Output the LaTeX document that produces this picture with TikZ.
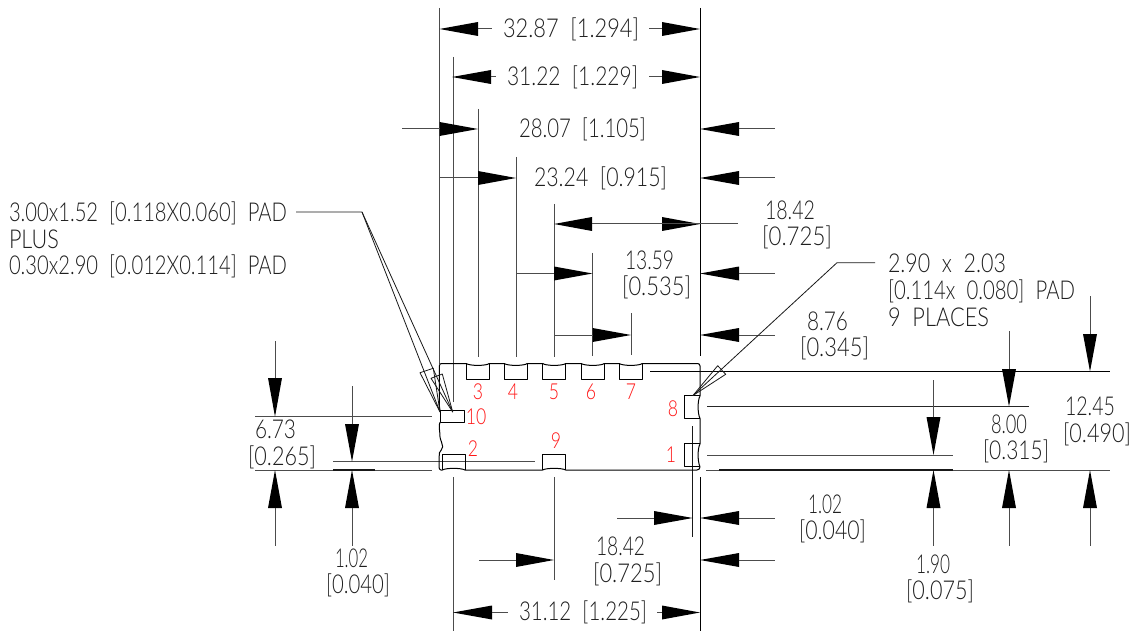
\documentclass[tikz,border=0pt]{standalone}
\usepackage{fontspec}
\usepackage{graphicx}
\setmainfont{Lato}[UprightFont={* Light},WordSpace=2]
\newlength\fitlen
\newcounter{tc}
\newcommand\fitbox[3]{\settowidth\fitlen{#3}\pgfmathsetmacro\fitr{(#2-#1)/\fitlen}\scalebox{\fitr}[1]{#3}}
% dimension text: left, right, centre y, text
\newcommand\ft[4]{\stepcounter{tc}\node[dimtext] (t\arabic{tc}) at ({(#1+#2)/2},{#3+8.8}) {\fitbox{#1}{#2}{#4}};}
% red pin number: centre x, centre y, text
\newcommand\pin[3]{\stepcounter{tc}\node[pintext] (t\arabic{tc}) at (#1,{#2+7.5}) {\scalebox{0.8}[1]{#3}};}
% horizontal arrow: tip x, base x, y, tail x
\newcommand\ha[4]{\fill[arrowfill] (#1,#3) -- (#2,{#3-7}) -- (#2,{#3+7}) -- cycle; \draw[dimline] (#2,#3) -- (#4,#3);}
% vertical arrow: x, tip y, base y, tail y
\newcommand\va[4]{\fill[arrowfill] (#1,#2) -- ({#1-7},#3) -- ({#1+7},#3) -- cycle; \draw[dimline] (#1,#3) -- (#1,#4);}
\newcommand\topdip[2]{-- (#1,363.5) .. controls ({#1+3},366) and ({#2-3},366) .. (#2,363.5)}
\begin{document}
\begin{tikzpicture}[x=1pt,y=-1pt,
  dimtext/.style={inner sep=0pt,anchor=base,font=\fontsize{26}{26}\selectfont,text=black!88},
  pintext/.style={inner sep=0pt,anchor=base,font=\fontsize{22}{22}\selectfont,text={rgb,255:red,255;green,20;blue,20}},
  dimline/.style={line width=1pt,draw=black!70},
  extline/.style={line width=1pt,draw=black!70},
  bodyline/.style={line width=1pt,draw=black,line join=round},
  leader/.style={line width=0.8pt,draw=black!90,line join=round},
  arrowfill/.style={fill=black}]
\useasboundingbox (0,0) rectangle (1138,631);
\fill[white] (0,0) rectangle (1138,631);

% extension lines, vertical
\draw[extline] (439.5,8) -- (439.5,364);
\draw[extline] (453,57) -- (453,402);
\draw[extline] (453.5,477) -- (453.5,631);
\draw[extline] (478,109) -- (478,357);
\draw[extline] (516,157) -- (516,357);
\draw[extline] (554,204) -- (554,357);
\draw[extline] (554,477) -- (554,580);
\draw[extline] (592.5,253) -- (592.5,356);
\draw[extline] (631,313) -- (631,355);
\draw[line width=1pt,draw=black] (700.5,8) -- (700.5,356);
\draw[line width=1pt,draw=black] (700.5,477) -- (700.5,631);
\draw[line width=0.9pt,draw=black!90] (692.7,426) -- (692.7,537);

% extension lines, horizontal
\draw[line width=0.9pt,draw=black] (650,371.5) -- (1110,371.5);
\draw[extline,draw=black!85] (707,406.5) -- (1029,406.5);
\draw[extline] (707,455) -- (953,455);
\draw[extline] (706,470) -- (1110,470);
\draw[line width=1.2pt,draw=black!90] (719,470) -- (953,470);
\draw[extline] (255,416.7) -- (432,416.7);
\draw[extline] (255,470) -- (432,470);
\draw[line width=1.2pt,draw=black!90] (333,470) -- (375,470);
\draw[extline] (333,461.7) -- (535,461.7);

% body outline
\draw[bodyline] (439.3,405) -- (439.3,366) .. controls (439.3,364) and (440.5,363.5) .. (442,363.5)
  \topdip{466.3}{489.3} \topdip{504.3}{527.3} \topdip{542.7}{565.7} \topdip{581.3}{604.3} \topdip{619.3}{642.3}
  -- (697.5,363.5) .. controls (699,363.5) and (700,364.5) .. (700,366)
  -- (700,396) .. controls (697.5,400) and (697.5,414) .. (700,418.3)
  -- (700,444) .. controls (697.5,448) and (697.5,462) .. (700,466.7)
  .. controls (700,468.5) and (699,470) .. (697,470)
  -- (565.7,470) .. controls (562,467.8) and (546,467.8) .. (542.7,470)
  -- (465,470) .. controls (461,467.8) and (446,467.8) .. (442.3,470)
  -- (441,470) .. controls (439.5,470) and (439,468.5) .. (439,466.7)
  -- (439.3,453) .. controls (440,451) and (442.7,449) .. (442.7,446.7)
  .. controls (442.7,443) and (440,440) .. (440,436.7)
  .. controls (440,432) and (439,428) .. (439.3,425);
\draw[bodyline] (439.3,405) -- (440,410.7);
\draw[bodyline] (439.3,425) -- (440,422.3);

% pads
\draw[bodyline] (466.3,364) -- (466.3,379.3) -- (489.3,379.3) -- (489.3,364);
\draw[bodyline] (504.3,364) -- (504.3,379.3) -- (527.3,379.3) -- (527.3,364);
\draw[bodyline] (542.7,364) -- (542.7,379.3) -- (565.7,379.3) -- (565.7,364);
\draw[bodyline] (581.3,364) -- (581.3,379.3) -- (604.3,379.3) -- (604.3,364);
\draw[bodyline] (619.3,364) -- (619.3,379.3) -- (642.3,379.3) -- (642.3,364);
\draw[bodyline] (440,410.7) rectangle (464.3,422.3);
\draw[bodyline] (442.3,470) -- (442.3,454) -- (465,454) -- (465,470);
\draw[bodyline] (542.7,470) -- (542.7,454) -- (565.7,454) -- (565.7,470);
\draw[bodyline] (700,395) -- (684.3,395) -- (684.3,418.3) -- (700,418.3);
\draw[bodyline] (700,443.7) -- (684.3,443.7) -- (684.3,466.7) -- (700,466.7);

% dimension arrows
\ha{439.5}{478}{29}{492}  \ha{700}{662}{29}{649}
\ha{452}{491}{77}{496}    \ha{700}{662}{77}{649}
\ha{478}{439.5}{129}{402} \ha{700}{739}{129}{775}
\ha{516}{478}{178}{440}   \ha{700}{739}{178}{775}
\ha{554}{592}{224}{662}   \ha{700}{662}{224}{738}
\ha{592.5}{554}{273.5}{516} \ha{700}{739}{273.5}{775}
\ha{631}{592.5}{335}{554} \ha{700}{739}{335}{775}
\ha{692.7}{654}{518}{617} \ha{700}{739}{518}{775}
\ha{554}{516}{560}{479}   \ha{700}{739}{560}{775}
\ha{453}{492}{612.5}{508} \ha{700}{662}{612.5}{657}

\va{275}{416.7}{378}{341} \va{275}{470}{508}{546}
\va{352}{461.7}{424}{386} \va{352}{470}{508}{546}
\va{933.5}{455}{417}{380} \va{933.5}{470}{508}{546}
\va{1009}{406.5}{369}{331} \va{1009}{470}{508}{546}
\va{1090}{371.5}{334}{296} \va{1090}{470}{508}{546}

% leaders
\draw[leader] (296,212) -- (362,212) -- (440,412);
\draw[leader] (362,212) -- (452.7,412);
\draw[leader] (440,412) -- (420,372.7) -- (433.3,368.3) -- cycle;
\draw[leader] (452.7,412) -- (431,378.3) -- (442.3,374) -- cycle;
\draw[leader] (875,262.7) -- (837,262.7) -- (693,395.5);
\draw[leader] (693,395.5) -- (717.7,365.7) -- (725.7,374.3) -- cycle;

% texts
\ft{503}{639}{29}{32.87 [1.294]}
\ft{507}{638}{77}{31.22 [1.229]}
\ft{519}{646}{129}{28.07 [1.105]}
\ft{534}{667}{178}{23.24 [0.915]}
\ft{765}{815}{211}{18.42}
\ft{762}{832}{237}{[0.725]}
\ft{625}{674}{261}{13.59}
\ft{622}{691}{287}{[0.535]}
\ft{807}{848}{322}{8.76}
\ft{800}{869}{348}{[0.345]}
\ft{888}{1006}{264}{2.90 x 2.03}
\ft{888}{1075}{291}{[0.114x 0.080] PAD}
\ft{888}{989}{318}{9 PLACES}
\ft{991}{1027}{425}{8.00}
\ft{983}{1049}{451}{[0.315]}
\ft{1065}{1115}{407}{12.45}
\ft{1063}{1131}{434}{[0.490]}
\ft{255}{296}{430}{6.73}
\ft{248}{316}{457}{[0.265]}
\ft{335}{368}{559}{1.02}
\ft{326}{390}{585}{[0.040]}
\ft{596}{645}{547}{18.42}
\ft{593}{662}{574}{[0.725]}
\ft{808}{842}{505}{1.02}
\ft{799}{866}{531}{[0.040]}
\ft{916}{950}{565}{1.90}
\ft{906}{974}{591}{[0.075]}
\ft{519}{647}{612}{31.12 [1.225]}
\ft{9}{287}{213}{3.00x1.52 [0.118X0.060] PAD}
\ft{9}{59}{240}{PLUS}
\ft{9}{287}{266}{0.30x2.90 [0.012X0.114] PAD}

% pin numbers
\pin{478}{392}{3}
\pin{513}{392}{4}
\pin{554}{392}{5}
\pin{591}{392}{6}
\pin{631}{392}{7}
\pin{673}{409}{8}
\pin{476}{417}{10}
\pin{473}{449}{2}
\pin{556}{441}{9}
\pin{671}{455}{1}
\end{tikzpicture}
\end{document}
